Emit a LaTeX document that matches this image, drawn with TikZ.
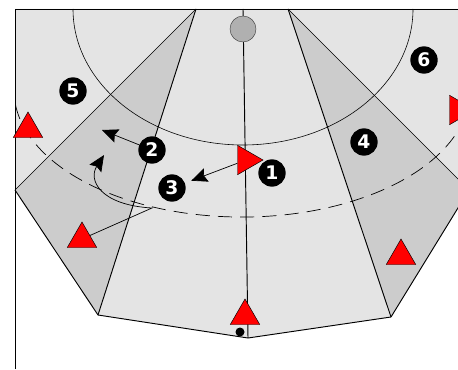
\documentclass[tikz,border=0pt]{standalone}
\usepackage{fontspec}
\setsansfont{DejaVu Sans}
\usetikzlibrary{arrows.meta,positioning,shapes.geometric}
\definecolor{Field}{HTML}{E4E4E4}
\definecolor{Wing}{HTML}{CCCCCC}
\definecolor{Goal}{HTML}{B0B0B0}
\definecolor{Mark}{HTML}{FF0000}

\begin{document}
\begin{tikzpicture}[x=0.03cm,y=-0.03cm,
  player/.style={regular polygon,regular polygon sides=3,draw=black,fill=Mark,line width=0.4pt,minimum size=1.02cm,inner sep=0pt},
  num/.style={circle,fill=black,text=white,minimum size=0.82cm,inner sep=0pt,font=\sffamily\bfseries\fontsize{16}{16}\selectfont},
  edge/.style={draw=black,line width=0.8pt},
  thinedge/.style={draw=black,line width=0.5pt},
  run/.style={draw=black,line width=0.6pt,-{Stealth[length=4.8mm,width=4.2mm,inset=0.7mm]}},
  zone/.style={draw=black,line width=0.6pt,dash pattern=on 12pt off 7pt}
]
\useasboundingbox (0,0) rectangle (458,369);
\clip (0,0) rectangle (458,369);
\coordinate (ml) at (15,9);
\coordinate (mr) at (469,9);
\coordinate (fb) at (15,369);
\coordinate (fl) at (15,190);
\coordinate (fr) at (469,190);
\coordinate (bl) at (98,315);
\coordinate (br) at (391,317);
\coordinate (bc) at (248,338);
\coordinate (gl) at (196,9);
\coordinate (gr) at (288,9);
\coordinate (ct) at (243,9);
% pitch
\fill[Field] (ml) -- (mr) -- (fr) -- (br) -- (bc) -- (bl) -- (fl) -- cycle;
\fill[Wing] (gl) -- (fl) -- (bl) -- cycle;
\fill[Wing] (gr) -- (fr) -- (br) -- cycle;
\draw[thinedge] (73,9) arc[start angle=180,end angle=0,x radius=170,y radius=136];
\begin{scope}
  \clip (ml) rectangle (458,369);
  \draw[zone] (14.3,83.4) arc[start angle=183,end angle=18,x radius=228,y radius=127];
\end{scope}
\foreach \a/\b in {gl/bl,gr/br,bl/bc,bc/br,fl/bl,br/fr} {
  \draw[edge] (\a) -- (\b);
}
\foreach \a/\b in {gl/fl,gr/fr} {
  \draw[thinedge] (\a) -- (\b);
}
\draw[edge] (fb) -- (ml) -- (mr);
\draw[edge] (ct) -- (bc);
\node[circle,draw=black!75,fill=Goal,minimum size=0.78cm,inner sep=0pt] (goal) at (243,29) {};
\node[circle,fill=black,minimum size=0.27cm,inner sep=0pt] (ball) at (240,332) {};
% players
\node[player] (p1) at (28,129) {};
\node[player] (p2) at (82,239) {};
\node[player] (p3) at (401,256) {};
\node[player] (p4) at (245,316) {};
\node[player,shape border rotate=-90] (p5) at (246,160) {};
\node[player,shape border rotate=-90] (p6) at (458,110) {};
% numbers
\node[num] (n1) at (272,173) {1};
\node[num] (n2) at (152,150) {2};
\node[num] (n3) at (172,188) {3};
\node[num] (n4) at (364,142) {4};
\node[num] (n5) at (73,91) {5};
\node[num] (n6) at (424,60) {6};
% moves
\coordinate (r2) at (102,130);
\coordinate (k1) at (152,208);
\coordinate (r3) at (104,155);
\draw[run] (n2) -- (r2);
\draw[run,shorten >=2mm] (p5) -- (n3);
\draw[run] (p2) -- (k1) .. controls (100,205) and (88,180) .. (r3);
\end{tikzpicture}
\end{document}
